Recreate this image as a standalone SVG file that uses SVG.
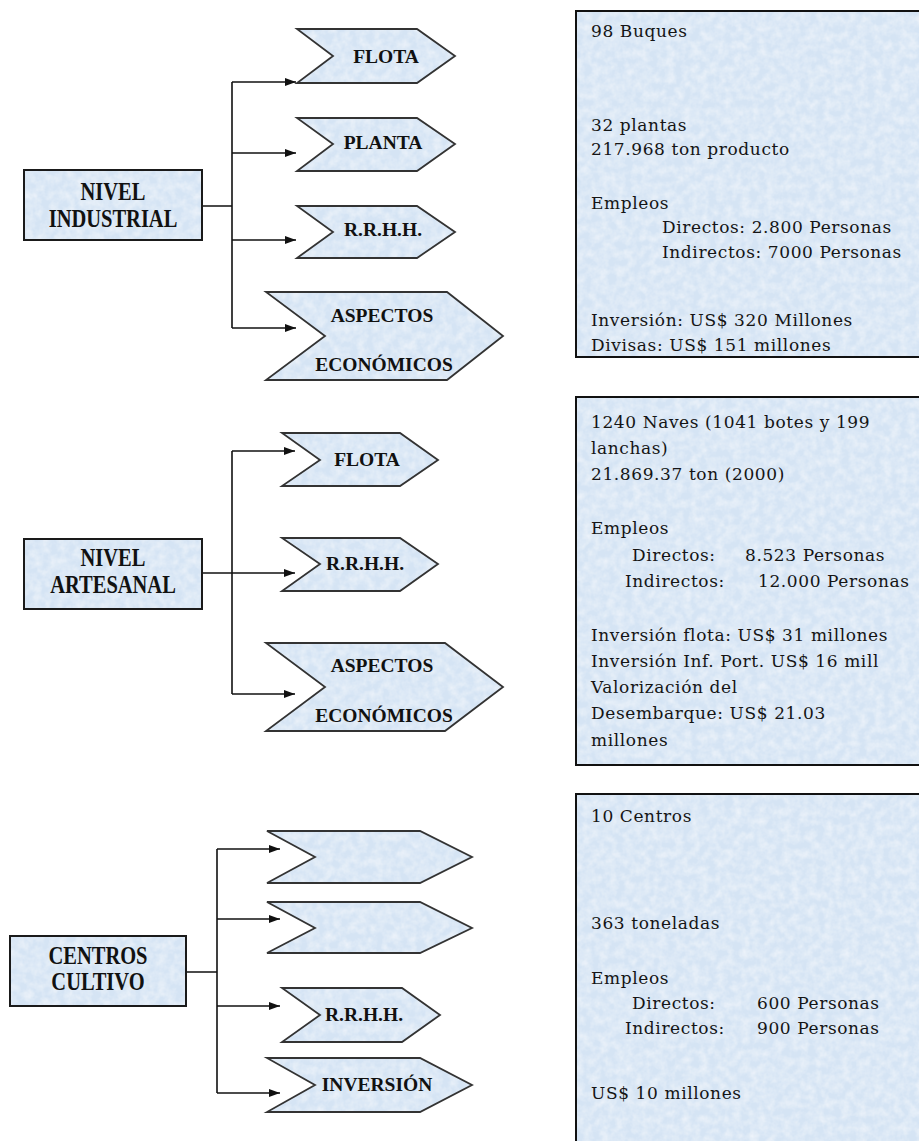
<svg xmlns="http://www.w3.org/2000/svg" width="919" height="1141" viewBox="0 0 919 1141">
<style>
.node{fill:url(#texp);stroke:#1a1a1a;stroke-width:2}
.chev{fill:url(#texp);stroke:#333;stroke-width:1.8;stroke-linejoin:miter}
.info{fill:url(#texp);stroke:#111;stroke-width:2}
.nl{font-family:"Liberation Serif","Times New Roman",serif;font-weight:bold;font-size:20.5px;fill:#111;text-anchor:middle}
.cl{font-family:"Liberation Serif","Times New Roman",serif;font-weight:bold;font-size:19.5px;fill:#111;text-anchor:middle}
.bt{font-family:"DejaVu Serif","Liberation Serif",serif;font-size:17px;fill:#151515;letter-spacing:0.6px}
.conn path{fill:none;stroke:#111;stroke-width:1.6}
</style>
<defs>
<marker id="ah" markerWidth="11" markerHeight="8" refX="11" refY="4" orient="auto" markerUnits="userSpaceOnUse"><path d="M0,0 L11,4 L0,8 z" fill="#111"/></marker>
<filter id="tex" x="0" y="0" width="100%" height="100%">
<feTurbulence type="fractalNoise" baseFrequency="0.12" numOctaves="3" seed="7" result="n"/>
<feColorMatrix in="n" type="matrix" values="0 0 0 0 1  0 0 0 0 1  0 0 0 0 1  0 0 0 0.8 -0.25" result="w"/>
<feComposite in="w" in2="SourceGraphic" operator="in" result="wc"/>
<feMerge><feMergeNode in="SourceGraphic"/><feMergeNode in="wc"/></feMerge>
</filter>
<pattern id="texp" patternUnits="userSpaceOnUse" x="0" y="0" width="919" height="1141">
<rect width="919" height="1141" fill="#d5e4f4" filter="url(#tex)"/>
</pattern>
</defs>
<rect width="919" height="1141" fill="#ffffff"/>

<g class="conn" id="connectors">
<path d="M202,206 H232 M232,82 V328"/>
<path d="M232,82 H296" marker-end="url(#ah)"/>
<path d="M232,153 H296" marker-end="url(#ah)"/>
<path d="M232,240 H296" marker-end="url(#ah)"/>
<path d="M232,328 H296" marker-end="url(#ah)"/>
<path d="M232,451 V694"/>
<path d="M202,573 H295" marker-end="url(#ah)"/>
<path d="M232,451 H295" marker-end="url(#ah)"/>
<path d="M232,694 H295" marker-end="url(#ah)"/>
<path d="M186,972 H217 M217,849 V1093"/>
<path d="M217,849 H280" marker-end="url(#ah)"/>
<path d="M217,919 H280" marker-end="url(#ah)"/>
<path d="M217,1006 H280" marker-end="url(#ah)"/>
<path d="M217,1093 H280" marker-end="url(#ah)"/>
</g>

<!-- Section 1 -->
<g id="nivel-industrial">
<rect class="node" x="24" y="170" width="178" height="70"/>
<text class="nl" transform="translate(113,200) scale(1,1.2)">NIVEL</text>
<text class="nl" transform="translate(113,227) scale(1,1.2)">INDUSTRIAL</text>
</g>
<g id="ind-flota">
<polygon class="chev" points="297,29 417,29 455,56 417,83 297,83 333,56"/>
<text class="cl" x="386" y="63">FLOTA</text>
</g>
<g id="ind-planta">
<polygon class="chev" points="297,118 417,118 455,144 417,171 297,171 333,144"/>
<text class="cl" x="383" y="149">PLANTA</text>
</g>
<g id="ind-rrhh">
<polygon class="chev" points="297,206 417,206 455,232 417,258 297,258 333,232"/>
<text class="cl" x="383" y="236">R.R.H.H.</text>
</g>
<g id="ind-aspectos">
<polygon class="chev" points="266,292 447,292 503,336 447,380 266,380 325,336"/>
<text class="cl" x="382" y="322">ASPECTOS</text>
<text class="cl" x="384" y="371">ECONÓMICOS</text>
</g>
<g id="info-industrial">
<rect class="info" x="576" y="11" width="360" height="346"/>
<text class="bt" x="591" y="37">98 Buques</text>
<text class="bt" x="591" y="131">32 plantas</text>
<text class="bt" x="591" y="155">217.968 ton producto</text>
<text class="bt" x="591" y="209">Empleos</text>
<text class="bt" x="662" y="233">Directos: 2.800 Personas</text>
<text class="bt" x="662" y="258">Indirectos: 7000 Personas</text>
<text class="bt" x="591" y="326">Inversión: US$ 320 Millones</text>
<text class="bt" x="591" y="351">Divisas: US$ 151 millones</text>
</g>

<!-- Section 2 -->
<g id="nivel-artesanal">
<rect class="node" x="24" y="539" width="178" height="70"/>
<text class="nl" transform="translate(113,566) scale(1,1.2)">NIVEL</text>
<text class="nl" transform="translate(113,593) scale(1,1.2)">ARTESANAL</text>
</g>
<g id="art-flota">
<polygon class="chev" points="282,433 400,433 438,460 400,486 282,486 320,460"/>
<text class="cl" x="367" y="466">FLOTA</text>
</g>
<g id="art-rrhh">
<polygon class="chev" points="282,538 400,538 438,564 400,591 282,591 320,564"/>
<text class="cl" x="365" y="570">R.R.H.H.</text>
</g>
<g id="art-aspectos">
<polygon class="chev" points="266,643 445,643 503,687 445,731 266,731 325,687"/>
<text class="cl" x="382" y="672">ASPECTOS</text>
<text class="cl" x="384" y="722">ECONÓMICOS</text>
</g>
<g id="info-artesanal">
<rect class="info" x="576" y="397" width="360" height="368"/>
<text class="bt" x="591" y="428">1240 Naves (1041 botes y 199</text>
<text class="bt" x="591" y="454">lanchas)</text>
<text class="bt" x="591" y="480">21.869.37 ton (2000)</text>
<text class="bt" x="591" y="534">Empleos</text>
<text class="bt" x="632" y="561">Directos:<tspan x="745">8.523 Personas</tspan></text>
<text class="bt" x="625" y="587">Indirectos:<tspan x="758">12.000 Personas</tspan></text>
<text class="bt" x="591" y="641">Inversión flota: US$ 31 millones</text>
<text class="bt" x="591" y="667">Inversión Inf. Port. US$ 16 mill</text>
<text class="bt" x="591" y="693">Valorización del</text>
<text class="bt" x="591" y="719">Desembarque: US$ 21.03</text>
<text class="bt" x="591" y="746">millones</text>
</g>

<!-- Section 3 -->
<g id="centros-cultivo">
<rect class="node" x="10" y="936" width="176" height="70"/>
<text class="nl" transform="translate(98,964) scale(1,1.2)">CENTROS</text>
<text class="nl" transform="translate(98,990) scale(1,1.2)">CULTIVO</text>
</g>
<g id="cul-blank1">
<polygon class="chev" points="267,831 420,831 472,857 420,883 267,883 315,857"/>
</g>
<g id="cul-blank2">
<polygon class="chev" points="267,902 420,902 472,928 420,953 267,953 315,928"/>
</g>
<g id="cul-rrhh">
<polygon class="chev" points="282,988 402,988 440,1015 402,1042 282,1042 320,1015"/>
<text class="cl" x="364" y="1021">R.R.H.H.</text>
</g>
<g id="cul-inversion">
<polygon class="chev" points="267,1058 420,1058 472,1085 420,1112 267,1112 315,1085"/>
<text class="cl" x="377" y="1091">INVERSIÓN</text>
</g>
<g id="info-cultivo">
<rect class="info" x="576" y="794" width="360" height="370"/>
<text class="bt" x="591" y="822">10 Centros</text>
<text class="bt" x="591" y="929">363 toneladas</text>
<text class="bt" x="591" y="984">Empleos</text>
<text class="bt" x="632" y="1009">Directos:<tspan x="757">600 Personas</tspan></text>
<text class="bt" x="625" y="1034">Indirectos:<tspan x="757">900 Personas</tspan></text>
<text class="bt" x="591" y="1099">US$ 10 millones</text>
</g>
</svg>
